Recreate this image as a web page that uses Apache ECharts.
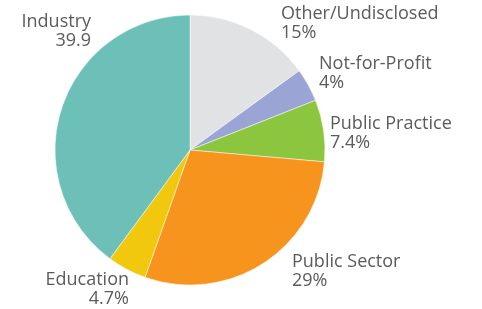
<!DOCTYPE html>
<html>
<head>
<meta charset="utf-8">
<script src="https://cdn.jsdelivr.net/npm/echarts@6/dist/echarts.min.js"></script>
<style>
  html, body { margin: 0; padding: 0; background: #fff; }
  #main { width: 482px; height: 309px; }
</style>
</head>
<body>
<div id="main"></div>
<script>
  // slices, clockwise from 12 o'clock
  var categories = ['Other/Undisclosed', 'Not-for-Profit', 'Public Practice', 'Public Sector', 'Education', 'Industry'];
  var values = [15, 4, 7.4, 29, 4.7, 39.9];
  var valueLabels = ['15%', '4%', '7.4%', '29%', '4.7%', '39.9'];
  var colors = ['#e1e2e3', '#9aa5d6', '#8cc63f', '#f7941d', '#f2c80f', '#6cc0b8'];

  // label anchors (x, y, align)
  var labelPos = [
    [281, 23, 'left'],
    [319, 73, 'left'],
    [330, 133, 'left'],
    [292, 271, 'left'],
    [129, 289, 'right'],
    [91, 31, 'right']
  ];

  var chart = echarts.init(document.getElementById('main'));
  chart.setOption({
    animation: false,
    series: [
      {
        type: 'pie',
        center: [190, 150],
        radius: [0, 135],
        startAngle: 90,
        data: categories.map(function (name, i) {
          return { name: name, value: values[i], itemStyle: { color: colors[i] } };
        }),
        itemStyle: { borderColor: '#fff', borderWidth: 0.5 },
        label: {
          show: true,
          position: 'outside',
          formatter: function (p) {
            return p.name + '\n' + valueLabels[p.dataIndex];
          },
          fontFamily: 'Open Sans',
          fontSize: 18,
          lineHeight: 19,
          color: '#5a5b5d',
          overflow: 'none'
        },
        labelLine: { show: false },
        labelLayout: function (params) {
          var lp = labelPos[params.dataIndex];
          return { x: lp[0], y: lp[1], align: lp[2], verticalAlign: 'middle', hideOverlap: false, moveOverlap: false };
        }
      }
    ]
  });
</script>
</body>
</html>
